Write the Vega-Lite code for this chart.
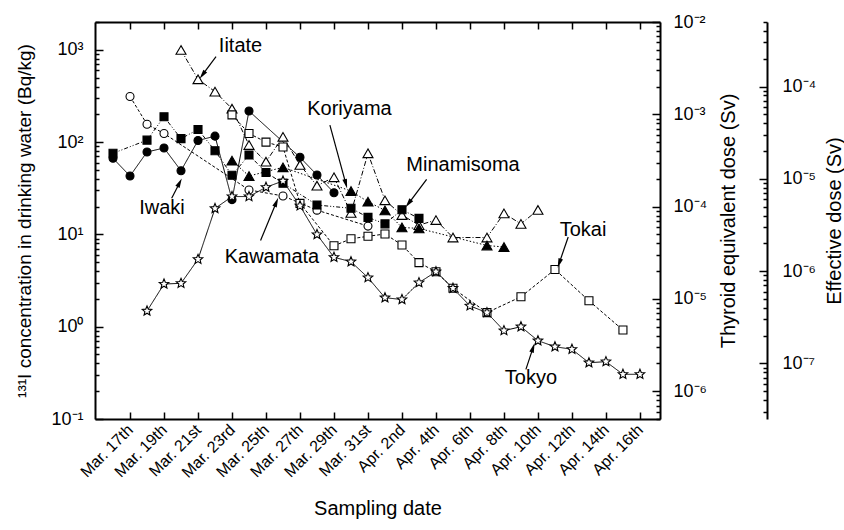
{
  "$schema": "https://vega.github.io/schema/vega-lite/v6.json",
  "width": 565,
  "height": 397,
  "autosize": "none",
  "padding": {"left": 95, "top": 22, "right": 184, "bottom": 111},
  "background": "white",
  "config": {
    "font": "Liberation Sans",
    "view": {"stroke": null},
    "axis": {
      "grid": false,
      "domainColor": "black",
      "domainWidth": 2,
      "tickColor": "black",
      "tickWidth": 1.5,
      "labelColor": "black",
      "titleColor": "black",
      "labelFont": "Liberation Sans",
      "titleFont": "Liberation Sans",
      "titleFontWeight": "normal",
      "labelFontSize": 18,
      "titleFontSize": 20,
      "labelOverlap": false,
      "labelFlush": false,
      "labelBound": false
    }
  },
  "datasets": {
    "series": [
      {"site": "Iitate", "day": 20, "c": 995},
      {"site": "Iitate", "day": 21, "c": 479},
      {"site": "Iitate", "day": 22, "c": 352},
      {"site": "Iitate", "day": 23, "c": 230},
      {"site": "Iitate", "day": 24, "c": 93},
      {"site": "Iitate", "day": 25, "c": 61.3},
      {"site": "Iitate", "day": 26, "c": 114},
      {"site": "Iitate", "day": 27, "c": 56.5},
      {"site": "Iitate", "day": 28, "c": 33.7},
      {"site": "Iitate", "day": 29, "c": 41.6},
      {"site": "Iitate", "day": 30, "c": 17.1},
      {"site": "Iitate", "day": 31, "c": 75.6},
      {"site": "Iitate", "day": 32, "c": 23.4},
      {"site": "Iitate", "day": 33, "c": 16.2},
      {"site": "Iitate", "day": 34, "c": 12.6},
      {"site": "Iitate", "day": 35, "c": 14.3},
      {"site": "Iitate", "day": 36, "c": 9.25},
      {"site": "Iitate", "day": 38, "c": 9.25},
      {"site": "Iitate", "day": 39, "c": 16.9},
      {"site": "Iitate", "day": 40, "c": 13.0},
      {"site": "Iitate", "day": 41, "c": 18.4},
      {"site": "Kawamata", "day": 17, "c": 312},
      {"site": "Kawamata", "day": 18, "c": 156},
      {"site": "Kawamata", "day": 19, "c": 124},
      {"site": "Kawamata", "day": 24, "c": 30.3},
      {"site": "Kawamata", "day": 26, "c": 26.1},
      {"site": "Kawamata", "day": 28, "c": 18.3},
      {"site": "Kawamata", "day": 31, "c": 12.3},
      {"site": "Tokai", "day": 23, "c": 197},
      {"site": "Tokai", "day": 24, "c": 124},
      {"site": "Tokai", "day": 25, "c": 100},
      {"site": "Tokai", "day": 26, "c": 88.5},
      {"site": "Tokai", "day": 27, "c": 21.7},
      {"site": "Tokai", "day": 29, "c": 7.52},
      {"site": "Tokai", "day": 30, "c": 8.96},
      {"site": "Tokai", "day": 31, "c": 9.54},
      {"site": "Tokai", "day": 32, "c": 10.1},
      {"site": "Tokai", "day": 33, "c": 7.68},
      {"site": "Tokai", "day": 34, "c": 4.94},
      {"site": "Tokai", "day": 35, "c": 3.94},
      {"site": "Tokai", "day": 36, "c": 2.61},
      {"site": "Tokai", "day": 38, "c": 1.42},
      {"site": "Tokai", "day": 40, "c": 2.11},
      {"site": "Tokai", "day": 42, "c": 4.17},
      {"site": "Tokai", "day": 44, "c": 1.91},
      {"site": "Tokai", "day": 46, "c": 0.92},
      {"site": "Minamisoma", "day": 16, "c": 75.6},
      {"site": "Minamisoma", "day": 18, "c": 105},
      {"site": "Minamisoma", "day": 19, "c": 188},
      {"site": "Minamisoma", "day": 20, "c": 109},
      {"site": "Minamisoma", "day": 21, "c": 137},
      {"site": "Minamisoma", "day": 22, "c": 80.7},
      {"site": "Minamisoma", "day": 23, "c": 43.7},
      {"site": "Minamisoma", "day": 24, "c": 72.5},
      {"site": "Minamisoma", "day": 25, "c": 46.9},
      {"site": "Minamisoma", "day": 26, "c": 35.8},
      {"site": "Minamisoma", "day": 28, "c": 20.8},
      {"site": "Minamisoma", "day": 30, "c": 19.2},
      {"site": "Minamisoma", "day": 31, "c": 15.3},
      {"site": "Minamisoma", "day": 32, "c": 13.0},
      {"site": "Minamisoma", "day": 33, "c": 18.5},
      {"site": "Minamisoma", "day": 34, "c": 14.9},
      {"site": "Koriyama", "day": 23, "c": 62.9},
      {"site": "Koriyama", "day": 24, "c": 42.9},
      {"site": "Koriyama", "day": 26, "c": 53.3},
      {"site": "Koriyama", "day": 30, "c": 29.5},
      {"site": "Koriyama", "day": 31, "c": 22.6},
      {"site": "Koriyama", "day": 32, "c": 18.2},
      {"site": "Koriyama", "day": 33, "c": 11.9},
      {"site": "Koriyama", "day": 34, "c": 11.6},
      {"site": "Koriyama", "day": 38, "c": 7.58},
      {"site": "Koriyama", "day": 39, "c": 7.3},
      {"site": "Iwaki", "day": 16, "c": 66.7},
      {"site": "Iwaki", "day": 17, "c": 42.9},
      {"site": "Iwaki", "day": 18, "c": 78.1},
      {"site": "Iwaki", "day": 19, "c": 86.3},
      {"site": "Iwaki", "day": 20, "c": 49.0},
      {"site": "Iwaki", "day": 21, "c": 104},
      {"site": "Iwaki", "day": 22, "c": 116},
      {"site": "Iwaki", "day": 23, "c": 23.8},
      {"site": "Iwaki", "day": 24, "c": 217},
      {"site": "Iwaki", "day": 27, "c": 68.4},
      {"site": "Iwaki", "day": 28, "c": 44.0},
      {"site": "Iwaki", "day": 29, "c": 28.3},
      {"site": "Tokyo", "day": 18, "c": 1.48},
      {"site": "Tokyo", "day": 19, "c": 2.90},
      {"site": "Tokyo", "day": 20, "c": 2.95},
      {"site": "Tokyo", "day": 21, "c": 5.37},
      {"site": "Tokyo", "day": 22, "c": 19.1},
      {"site": "Tokyo", "day": 23, "c": 25.7},
      {"site": "Tokyo", "day": 24, "c": 25.7},
      {"site": "Tokyo", "day": 25, "c": 32.4},
      {"site": "Tokyo", "day": 26, "c": 37.9},
      {"site": "Tokyo", "day": 27, "c": 20.4},
      {"site": "Tokyo", "day": 28, "c": 9.97},
      {"site": "Tokyo", "day": 29, "c": 5.65},
      {"site": "Tokyo", "day": 30, "c": 5.06},
      {"site": "Tokyo", "day": 31, "c": 3.40},
      {"site": "Tokyo", "day": 32, "c": 2.06},
      {"site": "Tokyo", "day": 33, "c": 1.97},
      {"site": "Tokyo", "day": 34, "c": 3.00},
      {"site": "Tokyo", "day": 35, "c": 3.94},
      {"site": "Tokyo", "day": 36, "c": 2.61},
      {"site": "Tokyo", "day": 37, "c": 1.68},
      {"site": "Tokyo", "day": 38, "c": 1.42},
      {"site": "Tokyo", "day": 39, "c": 0.906},
      {"site": "Tokyo", "day": 40, "c": 1.0},
      {"site": "Tokyo", "day": 41, "c": 0.705},
      {"site": "Tokyo", "day": 42, "c": 0.607},
      {"site": "Tokyo", "day": 43, "c": 0.569},
      {"site": "Tokyo", "day": 44, "c": 0.407},
      {"site": "Tokyo", "day": 45, "c": 0.418},
      {"site": "Tokyo", "day": 46, "c": 0.305},
      {"site": "Tokyo", "day": 47, "c": 0.305}
    ],
    "notes": [
      {"label": "Iitate", "tx": 23.5, "ty": 1099, "sx": 22.06, "sy": 842, "ex": 21.26, "ey": 535},
      {"label": "Koriyama", "tx": 29.91, "ty": 228.5, "sx": 28.76, "sy": 153, "ex": 29.70, "ey": 35.3},
      {"label": "Minamisoma", "tx": 36.59, "ty": 56.5, "sx": 34.45, "sy": 39.5, "ex": 33.38, "ey": 21.6},
      {"label": "Iwaki", "tx": 18.88, "ty": 19.3, "sx": 19.45, "sy": 24.6, "ex": 19.92, "ey": 36.3},
      {"label": "Kawamata", "tx": 25.35, "ty": 5.69, "sx": 24.68, "sy": 8.59, "ex": 25.61, "ey": 22.3},
      {"label": "Tokai", "tx": 43.65, "ty": 11.2, "sx": 42.78, "sy": 9.37, "ex": 42.25, "ey": 4.88},
      {"label": "Tokyo", "tx": 40.59, "ty": 0.278, "sx": 40.29, "sy": 0.345, "ex": 40.71, "ey": 0.59}
    ]
  },
  "layer": [
    {
      "data": {"name": "series"},
      "mark": {"type": "line", "color": "black", "strokeWidth": 1, "clip": true},
      "encoding": {
        "x": {
          "field": "day", "type": "quantitative",
          "scale": {"domain": [14.94, 48.18], "nice": false, "zero": false},
          "axis": {
            "orient": "bottom",
            "values": [17, 19, 21, 23, 25, 27, 29, 31, 33, 35, 37, 39, 41, 43, 45, 47],
            "labelExpr": "(datum.value <= 31 ? 'Mar. ' + datum.value : 'Apr. ' + (datum.value - 31)) + (datum.value == 21 || datum.value == 31 ? 'st' : datum.value == 23 ? 'rd' : datum.value == 33 ? 'nd' : 'th')",
            "labelAngle": -45,
            "labelAlign": "right",
            "labelBaseline": "middle",
            "labelFontSize": 16,
            "labelPadding": 15,
            "tickSize": -7,
            "title": "Sampling date",
            "titlePadding": 18
          }
        },
        "y": {
          "field": "c", "type": "quantitative",
          "scale": {"type": "log", "domain": [0.1, 2000], "nice": false},
          "axis": {
            "orient": "left",
            "values": [0.1, 0.2, 0.3, 0.4, 0.5, 0.6, 0.7, 0.8, 0.9, 1, 2, 3, 4, 5, 6, 7, 8, 9, 10, 20, 30, 40, 50, 60, 70, 80, 90, 100, 200, 300, 400, 500, 600, 700, 800, 900, 1000, 2000],
            "labelExpr": "abs(log(datum.value)/LN10 - round(log(datum.value)/LN10)) < 0.01 ? '10' + ['⁻⁸','⁻⁷','⁻⁶','⁻⁵','⁻⁴','⁻³','⁻²','⁻¹','⁰','¹','²','³','⁴'][round(log(datum.value)/LN10) + 8] : ''",
            "tickSize": {"condition": {"test": "abs(log(datum.value)/LN10 - round(log(datum.value)/LN10)) < 0.01", "value": -8}, "value": -4},
            "labelPadding": 20,
            "title": "¹³¹I concentration in drinking water (Bq/kg)",
            "titleFontSize": 19,
            "titlePadding": 16
          }
        },
        "strokeDash": {
          "field": "site", "type": "nominal",
          "scale": {
            "domain": ["Iwaki", "Iitate", "Koriyama", "Minamisoma", "Kawamata", "Tokai", "Tokyo"],
            "range": [[1, 0], [5, 2, 1, 2], [1.5, 2], [4, 2, 1, 2, 1, 2], [3, 2], [3, 2], [1, 0]]
          },
          "legend": null
        },
        "order": {"field": "day", "type": "quantitative"}
      }
    },
    {
      "data": {"name": "series"},
      "mark": {"type": "point", "filled": true, "stroke": "black", "strokeWidth": 1.1, "opacity": 1, "clip": true},
      "encoding": {
        "x": {"field": "day", "type": "quantitative", "axis": null},
        "y": {"field": "c", "type": "quantitative", "scale": {"type": "log", "domain": [0.1, 2000], "nice": false}, "axis": null},
        "shape": {
          "field": "site", "type": "nominal",
          "scale": {
            "domain": ["Iwaki", "Iitate", "Koriyama", "Minamisoma", "Kawamata", "Tokai", "Tokyo"],
            "range": ["circle", "triangle-up", "triangle-up", "square", "circle", "square", "M0,-1L0.265,-0.364L0.951,-0.309L0.428,0.139L0.588,0.809L0,0.45L-0.588,0.809L-0.428,0.139L-0.951,-0.309L-0.265,-0.364Z"]
          },
          "legend": null
        },
        "fill": {
          "field": "site", "type": "nominal",
          "scale": {
            "domain": ["Iwaki", "Iitate", "Koriyama", "Minamisoma", "Kawamata", "Tokai", "Tokyo"],
            "range": ["black", "white", "black", "black", "white", "white", "white"]
          },
          "legend": null
        },
        "size": {
          "condition": [
            {"test": "datum.site == 'Tokyo'", "value": 100},
            {"test": "datum.site == 'Iitate' || datum.site == 'Koriyama'", "value": 100}
          ],
          "value": 64
        }
      }
    },
    {
      "data": {"name": "notes"},
      "mark": {"type": "rule", "color": "black", "strokeWidth": 1.2},
      "encoding": {
        "x": {"field": "sx", "type": "quantitative", "axis": null},
        "y": {"field": "sy", "type": "quantitative", "scale": {"type": "log", "domain": [0.1, 2000], "nice": false}, "axis": null},
        "x2": {"field": "ex"},
        "y2": {"field": "ey"}
      }
    },
    {
      "data": {"name": "notes"},
      "mark": {"type": "point", "shape": "M0,-1L0.5,1L-0.5,1Z", "filled": true, "color": "black", "size": 90, "opacity": 1},
      "encoding": {
        "x": {"field": "ex", "type": "quantitative", "axis": null},
        "y": {"field": "ey", "type": "quantitative", "scale": {"type": "log", "domain": [0.1, 2000], "nice": false}, "axis": null},
        "angle": {
          "condition": [
            {"test": "datum.label == 'Iitate'", "value": 216.6},
            {"test": "datum.label == 'Koriyama'", "value": 164.9},
            {"test": "datum.label == 'Minamisoma'", "value": 216.8},
            {"test": "datum.label == 'Iwaki'", "value": 26.9},
            {"test": "datum.label == 'Kawamata'", "value": 22.5},
            {"test": "datum.label == 'Tokai'", "value": 199},
            {"test": "datum.label == 'Tokyo'", "value": 18.2}
          ],
          "value": 0
        }
      }
    },
    {
      "data": {"name": "notes"},
      "mark": {"type": "text", "fontSize": 20, "font": "Liberation Sans", "color": "black", "baseline": "middle", "align": "center"},
      "encoding": {
        "x": {"field": "tx", "type": "quantitative", "axis": null},
        "y": {"field": "ty", "type": "quantitative", "scale": {"type": "log", "domain": [0.1, 2000], "nice": false}, "axis": null},
        "text": {"field": "label"}
      }
    },
    {
      "data": {"name": "series"},
      "mark": {"type": "point", "opacity": 0, "clip": true},
      "encoding": {
        "x": {
          "field": "day", "type": "quantitative",
          "axis": {
            "orient": "top",
            "values": [17, 19, 21, 23, 25, 27, 29, 31, 33, 35, 37, 39, 41, 43, 45, 47],
            "labels": false,
            "tickSize": -7,
            "title": null
          }
        },
        "y": {
          "field": "c", "type": "quantitative",
          "scale": {"type": "log", "domain": [5e-7, 0.01], "nice": false},
          "axis": {
            "orient": "right",
            "values": [5e-7, 6e-7, 7e-7, 8e-7, 9e-7, 1e-6, 2e-6, 3e-6, 4e-6, 5e-6, 6e-6, 7e-6, 8e-6, 9e-6, 1e-5, 2e-5, 3e-5, 4e-5, 5e-5, 6e-5, 7e-5, 8e-5, 9e-5, 1e-4, 2e-4, 3e-4, 4e-4, 5e-4, 6e-4, 7e-4, 8e-4, 9e-4, 0.001, 0.002, 0.003, 0.004, 0.005, 0.006, 0.007, 0.008, 0.009, 0.01],
            "labelExpr": "abs(log(datum.value)/LN10 - round(log(datum.value)/LN10)) < 0.01 ? '10' + ['⁻⁸','⁻⁷','⁻⁶','⁻⁵','⁻⁴','⁻³','⁻²','⁻¹','⁰','¹','²','³','⁴'][round(log(datum.value)/LN10) + 8] : ''",
            "tickSize": {"condition": {"test": "abs(log(datum.value)/LN10 - round(log(datum.value)/LN10)) < 0.01", "value": -8}, "value": -4},
            "labelPadding": 21,
            "title": "Thyroid equivalent dose (Sv)",
            "titleAngle": 270,
            "titleBaseline": "top",
            "titlePadding": 12
          }
        }
      }
    },
    {
      "data": {"name": "series"},
      "mark": {"type": "point", "opacity": 0, "clip": true},
      "encoding": {
        "x": {"field": "day", "type": "quantitative", "axis": null},
        "y": {
          "field": "c", "type": "quantitative",
          "scale": {"type": "log", "domain": [2.5e-8, 5e-4], "nice": false},
          "axis": {
            "orient": "right",
            "offset": 107,
            "values": [3e-8, 4e-8, 5e-8, 6e-8, 7e-8, 8e-8, 9e-8, 1e-7, 2e-7, 3e-7, 4e-7, 5e-7, 6e-7, 7e-7, 8e-7, 9e-7, 1e-6, 2e-6, 3e-6, 4e-6, 5e-6, 6e-6, 7e-6, 8e-6, 9e-6, 1e-5, 2e-5, 3e-5, 4e-5, 5e-5, 6e-5, 7e-5, 8e-5, 9e-5, 1e-4, 2e-4, 3e-4, 4e-4, 5e-4],
            "labelExpr": "abs(log(datum.value)/LN10 - round(log(datum.value)/LN10)) < 0.01 ? '10' + ['⁻⁸','⁻⁷','⁻⁶','⁻⁵','⁻⁴','⁻³','⁻²','⁻¹','⁰','¹','²','³','⁴'][round(log(datum.value)/LN10) + 8] : ''",
            "tickSize": {"condition": {"test": "abs(log(datum.value)/LN10 - round(log(datum.value)/LN10)) < 0.01", "value": -8}, "value": -4},
            "labelPadding": 23,
            "title": "Effective dose (Sv)",
            "titleAngle": 270,
            "titleBaseline": "top",
            "titlePadding": 9
          }
        }
      }
    }
  ],
  "resolve": {"scale": {"y": "independent"}, "axis": {"x": "independent", "y": "independent"}}
}
